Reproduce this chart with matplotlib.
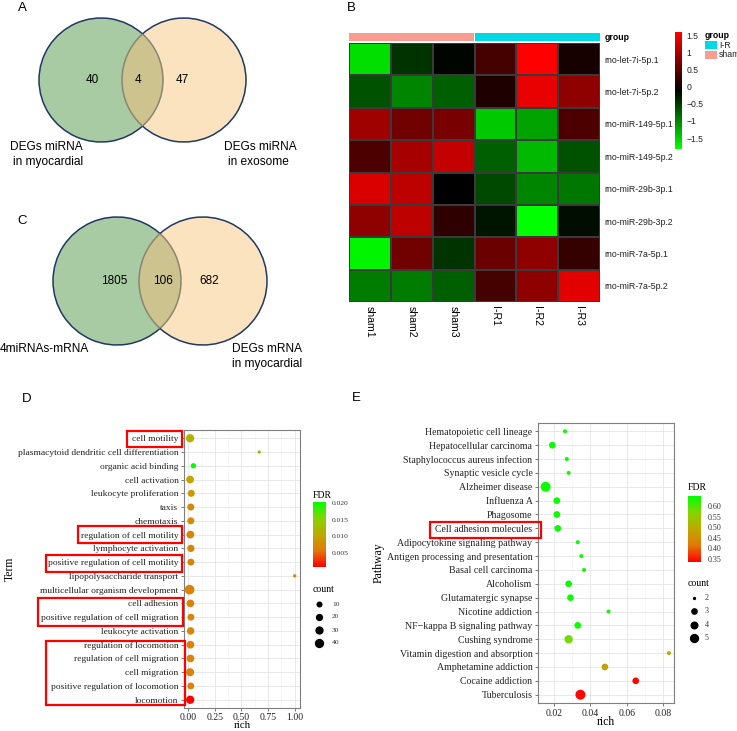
import numpy as np
import matplotlib
matplotlib.use('Agg')
import matplotlib.pyplot as plt
from matplotlib.colors import LinearSegmentedColormap
from matplotlib.patches import Arc, Circle, Rectangle

W, H = 737, 731

# ---- data ----
venn_a_counts = [40, 4, 47]
venn_c_counts = [1805, 106, 682]

samples = ['sham1', 'sham2', 'sham3', 'I-R1', 'I-R2', 'I-R3']
groups = ['sham', 'sham', 'sham', 'I-R', 'I-R', 'I-R']
mirnas = ['rno-let-7i-5p.1', 'rno-let-7i-5p.2', 'rno-miR-149-5p.1', 'rno-miR-149-5p.2',
          'rno-miR-29b-3p.1', 'rno-miR-29b-3p.2', 'rno-miR-7a-5p.1', 'rno-miR-7a-5p.2']
expr = [[-1.6, -0.45, -0.15, 0.35, 1.6, 0.05],
        [-0.65, -1.0, -0.75, 0.1, 1.45, 0.85],
        [0.95, 0.65, 0.7, -1.45, -1.2, 0.4],
        [0.4, 1.0, 1.2, -0.75, -1.35, -0.65],
        [1.35, 1.15, -0.1, -0.6, -1.0, -0.9],
        [0.85, 1.15, 0.2, -0.25, -1.82, -0.2],
        [-1.75, 0.65, -0.45, 0.6, 0.85, 0.25],
        [-0.95, -0.95, -0.75, 0.35, 0.85, 1.4]]

go_terms = ['cell motility', 'plasmacytoid dendritic cell differentiation', 'organic acid binding',
            'cell activation', 'leukocyte proliferation', 'taxis', 'chemotaxis',
            'regulation of cell motility', 'lymphocyte activation',
            'positive regulation of cell motility', 'lipopolysaccharide transport',
            'multicellular organism development', 'cell adhesion',
            'positive regulation of cell migration', 'leukocyte activation',
            'regulation of locomotion', 'regulation of cell migration', 'cell migration',
            'positive regulation of locomotion', 'locomotion']
go_rich = [0.017, 0.667, 0.048, 0.017, 0.028, 0.024, 0.024, 0.02, 0.025, 0.025,
           1.0, 0.012, 0.02, 0.025, 0.022, 0.02, 0.021, 0.017, 0.024, 0.018]
go_count = [30, 2, 8, 25, 18, 18, 18, 25, 20, 17, 2, 45, 24, 17, 22, 25, 24, 28, 17, 30]
go_fdr = [0.0115, 0.012, 0.0203, 0.0105, 0.009, 0.0075, 0.0075, 0.007, 0.007, 0.007,
          0.0065, 0.007, 0.007, 0.0068, 0.007, 0.0068, 0.0068, 0.0068, 0.0068, 0.0008]

kegg_paths = ['Hematopoietic cell lineage', 'Hepatocellular carcinoma',
              'Staphylococcus aureus infection', 'Synaptic vesicle cycle', 'Alzheimer disease',
              'Influenza A', 'Phagosome', 'Cell adhesion molecules',
              'Adipocytokine signaling pathway', 'Antigen processing and presentation',
              'Basal cell carcinoma', 'Alcoholism', 'Glutamatergic synapse', 'Nicotine addiction',
              'NF\u2212kappa B signaling pathway', 'Cushing syndrome',
              'Vitamin digestion and absorption', 'Amphetamine addiction', 'Cocaine addiction',
              'Tuberculosis']
kegg_rich = [0.026, 0.019, 0.027, 0.028, 0.0153, 0.0215, 0.0215, 0.022, 0.033, 0.035,
             0.0365, 0.028, 0.029, 0.050, 0.033, 0.028, 0.0833, 0.048, 0.065, 0.0345]
kegg_count = [2, 3, 2, 2, 5, 3, 3, 3, 2, 2, 2, 3, 3, 2, 3, 4, 2, 3, 3, 5]
kegg_fdr = [0.64, 0.64, 0.64, 0.64, 0.64, 0.64, 0.64, 0.64, 0.64, 0.64,
            0.64, 0.64, 0.64, 0.64, 0.64, 0.58, 0.49, 0.48, 0.34, 0.34]

# ---- styles ----
heat_cmap = LinearSegmentedColormap.from_list('gbr', ['#00FF00', '#000000', '#FF0000'])
fdr_cmap = LinearSegmentedColormap.from_list(
    'rg', ['#FF0000', '#E2780A', '#BEA800', '#86D400', '#00FF00'])
SERIF = 'Liberation Serif'
SANS = 'Liberation Sans'
GO_REF = ([2, 10, 20, 30, 40, 50], [3.3, 6.0, 7.3, 8.3, 9.3, 10.2])
KEGG_REF = ([2, 3, 4, 5], [4.0, 6.7, 8.3, 10.0])

fig = plt.figure(figsize=(W / 100, H / 100), dpi=100)


def ax_px(x0, y0, x1, y1, **kw):
    return fig.add_axes([x0 / W, 1 - y1 / H, (x1 - x0) / W, (y1 - y0) / H], **kw)


def dot_size(counts, ref):
    d = np.interp(counts, ref[0], ref[1]) * 0.72
    return d ** 2


# ---- B heatmap ----
ax_b = ax_px(349, 43, 600, 302)
data = np.array(expr)
vmin, vmax = -1.82, 1.6
ax_b.pcolormesh(data, cmap=heat_cmap, vmin=vmin, vmax=vmax, edgecolor='#3a3a3a', lw=0.2)
ax_b.set_ylim(len(mirnas), 0)
ax_b.set_xlim(0, len(samples))
ax_b.set_yticks(np.arange(len(mirnas)) + 0.5)
ax_b.set_yticklabels(mirnas, fontsize=6.3, family=SANS, color='#222222')
ax_b.yaxis.tick_right()
ax_b.set_xticks(np.arange(len(samples)) + 0.5)
ax_b.set_xticklabels(samples, rotation=270, fontsize=7.6, family=SANS, va='top')
ax_b.tick_params(length=0, pad=3)
for s in ax_b.spines.values():
    s.set_visible(False)

group_col = {'sham': '#F99D93', 'I-R': '#00D8E4'}
ax_g = ax_px(349, 33, 600, 41)
for i, g in enumerate(groups):
    ax_g.add_patch(Rectangle((i, 0), 1, 1, color=group_col[g], lw=0))
ax_g.set_xlim(0, len(samples))
ax_g.set_ylim(0, 1)
ax_g.set_xticks([])
ax_g.set_yticks([0.5])
ax_g.set_yticklabels(['group'], fontsize=6.3, family=SANS, fontweight='bold')
ax_g.yaxis.tick_right()
ax_g.tick_params(length=0, pad=3)
for s in ax_g.spines.values():
    s.set_visible(False)

ax_hc = ax_px(675, 32, 682, 149)
grad = np.linspace(vmin, vmax, 200).reshape(-1, 1)
ax_hc.pcolormesh([0, 1], np.linspace(vmin, vmax, 201), grad, cmap=heat_cmap, vmin=vmin, vmax=vmax)
ax_hc.set_ylim(vmin, vmax)
ax_hc.set_xticks([])
ax_hc.yaxis.tick_right()
ax_hc.set_yticks([-1.5, -1, -0.5, 0, 0.5, 1, 1.5])
ax_hc.set_yticklabels(['\u22121.5', '\u22121', '\u22120.5', '0', '0.5', '1', '1.5'],
                      fontsize=6.2, family=SANS, color='#222222')
ax_hc.tick_params(length=2, width=0.4, color='white', pad=1.5)
for s in ax_hc.spines.values():
    s.set_visible(False)


# ---- D / E bubble plots ----
def bubble(ax, names, rich, count, fdr, ref, fdr_lim, label_size):
    n = len(names)
    y = np.arange(n)[::-1]
    ax.set_axisbelow(True)
    ax.grid(True, which='major', color='#E5E5E5', lw=0.6)
    ax.grid(True, which='minor', axis='x', color='#F2F2F2', lw=0.4)
    ax.scatter(rich, y, s=dot_size(count, ref), c=fdr, cmap=fdr_cmap,
               vmin=fdr_lim[0], vmax=fdr_lim[1], lw=0, zorder=3)
    ax.set_yticks(y)
    ax.set_yticklabels(names, fontsize=label_size, family=SERIF, color='#222222')
    ax.set_ylim(-0.6, n - 0.4)
    ax.tick_params(axis='both', length=2.5, width=0.5, color='#444444', pad=1.5)
    ax.tick_params(axis='x', which='minor', length=0)
    for s in ax.spines.values():
        s.set_color('#7F7F7F')
        s.set_linewidth(0.8)


ax_d = ax_px(184, 430, 300, 708)
bubble(ax_d, go_terms, go_rich, go_count, go_fdr, GO_REF, (0.0008, 0.0203), 6.8)
ax_d.set_xlim(-0.04, 1.05)
ax_d.set_xticks([0, 0.25, 0.5, 0.75, 1.0])
ax_d.set_xticks([0.125, 0.375, 0.625, 0.875], minor=True)
ax_d.set_xticklabels(['0.00', '0.25', '0.50', '0.75', '1.00'], fontsize=7, family=SERIF, color='#222222')
ax_d.tick_params(axis='x', pad=0.8)

ax_e = ax_px(538, 423, 674, 703)
bubble(ax_e, kegg_paths, kegg_rich, kegg_count, kegg_fdr, KEGG_REF, (0.336, 0.647), 7.1)
ax_e.set_xlim(0.0111, 0.0861)
ax_e.set_xticks([0.02, 0.04, 0.06, 0.08])
ax_e.set_xticks([0.03, 0.05, 0.07], minor=True)
ax_e.set_xticklabels(['0.02', '0.04', '0.06', '0.08'], fontsize=7, family=SERIF, color='#222222')


def fdr_bar(box, lim, ticks, labels, size):
    ax = ax_px(*box)
    ax.pcolormesh([0, 1], np.linspace(lim[0], lim[1], 201),
                  np.linspace(lim[0], lim[1], 200).reshape(-1, 1),
                  cmap=fdr_cmap, vmin=lim[0], vmax=lim[1])
    ax.set_ylim(*lim)
    ax.set_xticks([])
    ax.yaxis.tick_right()
    ax.set_yticks(ticks)
    ax.set_yticklabels(labels, fontsize=size, family=SERIF, color='#333333')
    ax.tick_params(length=2.5, width=0.5, color='white', pad=2)
    for s in ax.spines.values():
        s.set_visible(False)


fdr_bar((313, 502, 326, 567), (0.0008, 0.0203), [0.005, 0.01, 0.015, 0.02],
        ['0.005', '0.010', '0.015', '0.020'], 5.4)
fdr_bar((688, 496, 701, 562), (0.336, 0.647), [0.35, 0.4, 0.45, 0.5, 0.55, 0.6],
        ['0.35', '0.40', '0.45', '0.50', '0.55', '0.60'], 5.8)

# ---- overlay: Venns, letters, axis titles, legends, red boxes ----
ov = fig.add_axes([0, 0, 1, 1], facecolor='none')
ov.set_xlim(0, W)
ov.set_ylim(H, 0)
ov.axis('off')

GREEN, PEACH, MIX, NAVY, GREY = '#A9CBA4', '#FCE3C0', '#CCC38E', '#1F3864', '#8A8670'


def venn(cx1, cx2, cy, r, counts, num_x):
    c1 = Circle((cx1, cy), r, color=GREEN, lw=0)
    c2 = Circle((cx2, cy), r, color=PEACH, lw=0)
    ov.add_patch(c1)
    ov.add_patch(c2)
    mix = Circle((cx2, cy), r, color=MIX, lw=0)
    ov.add_patch(mix)
    mix.set_clip_path(c1)
    th = np.degrees(np.arccos((cx2 - cx1) / (2 * r)))
    ov.add_patch(Arc((cx1, cy), 2 * r, 2 * r, theta1=th, theta2=360 - th, color=NAVY, lw=1.1))
    ov.add_patch(Arc((cx1, cy), 2 * r, 2 * r, theta1=-th, theta2=th, color=GREY, lw=1.1))
    ov.add_patch(Arc((cx2, cy), 2 * r, 2 * r, theta1=180 + th, theta2=540 - th, color=NAVY, lw=1.1))
    ov.add_patch(Arc((cx2, cy), 2 * r, 2 * r, theta1=180 - th, theta2=180 + th, color=GREY, lw=1.1))
    for x, v in zip(num_x, counts):
        ov.text(x, cy, str(v), ha='center', va='center', fontsize=8.5, family=SANS)


venn(101, 184, 80, 62, venn_a_counts, [92, 138, 182])
ov.text(10, 147, 'DEGs miRNA', fontsize=8.6, family=SANS, va='center')
ov.text(13, 162, 'in myocardial', fontsize=8.6, family=SANS, va='center')
ov.text(224, 147, 'DEGs miRNA', fontsize=8.6, family=SANS, va='center')
ov.text(228, 162, 'in exosome', fontsize=8.6, family=SANS, va='center')

venn(117, 203, 281, 64, venn_c_counts, [114, 163, 209])
ov.text(0, 349, '4miRNAs-mRNA', fontsize=8.6, family=SANS, va='center')
ov.text(232, 349, 'DEGs mRNA', fontsize=8.6, family=SANS, va='center')
ov.text(232, 364, 'in myocardial', fontsize=8.6, family=SANS, va='center')

for lbl, x, y in [('A', 22, 8), ('B', 351, 8), ('C', 22, 221), ('D', 27, 399), ('E', 356, 398)]:
    ov.text(x, y, lbl, ha='center', va='center', fontsize=9.5, family=SANS)

# axis titles of D and E
ov.text(242, 726, 'rich', ha='center', va='center', fontsize=7.8, family=SERIF)
ov.text(10, 569, 'Term', ha='center', va='center', rotation=90, fontsize=8.5, family=SERIF)
ov.text(606, 722, 'rich', ha='center', va='center', fontsize=8.5, family=SERIF)
ov.text(379, 563, 'Pathway', ha='center', va='center', rotation=90, fontsize=8.5, family=SERIF)

# group legend of heatmap
ov.text(705, 35, 'group', fontsize=6.3, family=SANS, fontweight='bold', va='center')
for i, g in enumerate(['I-R', 'sham']):
    ov.add_patch(Rectangle((705, 41 + i * 9.5), 12, 8, color=group_col[g], lw=0))
    ov.text(719, 45 + i * 9.5, g, fontsize=6.3, family=SANS, va='center', color='#222222')

# FDR titles and count legends
ov.text(313, 495, 'FDR', fontsize=7, family=SERIF, va='center')
ov.text(688, 487, 'FDR', fontsize=7, family=SERIF, va='center')
ov.text(313, 589, 'count', fontsize=7, family=SERIF, va='center')
ov.text(688, 583, 'count', fontsize=7, family=SERIF, va='center')
for i, c in enumerate([10, 20, 30, 40]):
    ov.scatter(319, 604 + i * 13, s=dot_size(c, GO_REF), color='black', lw=0)
    ov.text(332, 604 + i * 13, str(c), fontsize=5.4, family=SERIF, va='center', color='#333333')
for i, c in enumerate([2, 3, 4, 5]):
    ov.scatter(694, 598 + i * 13.3, s=dot_size(c, ([2, 3, 4, 5], [3.3, 6.7, 8.0, 9.3])),
               color='black', lw=0)
    ov.text(705, 598 + i * 13.3, str(c), fontsize=5.8, family=SERIF, va='center', color='#333333')

# red highlight boxes
red_boxes = [(127, 431, 182, 447), (78, 526, 182, 543), (46, 555, 182, 572),
             (38, 598, 183, 626), (46, 641, 185, 705), (430, 522, 541, 538)]
for x0, y0, x1, y1 in red_boxes:
    ov.add_patch(Rectangle((x0, y0), x1 - x0, y1 - y0, fill=False, ec='#FF0000', lw=1.6))

fig.savefig('out.png', dpi=100)
